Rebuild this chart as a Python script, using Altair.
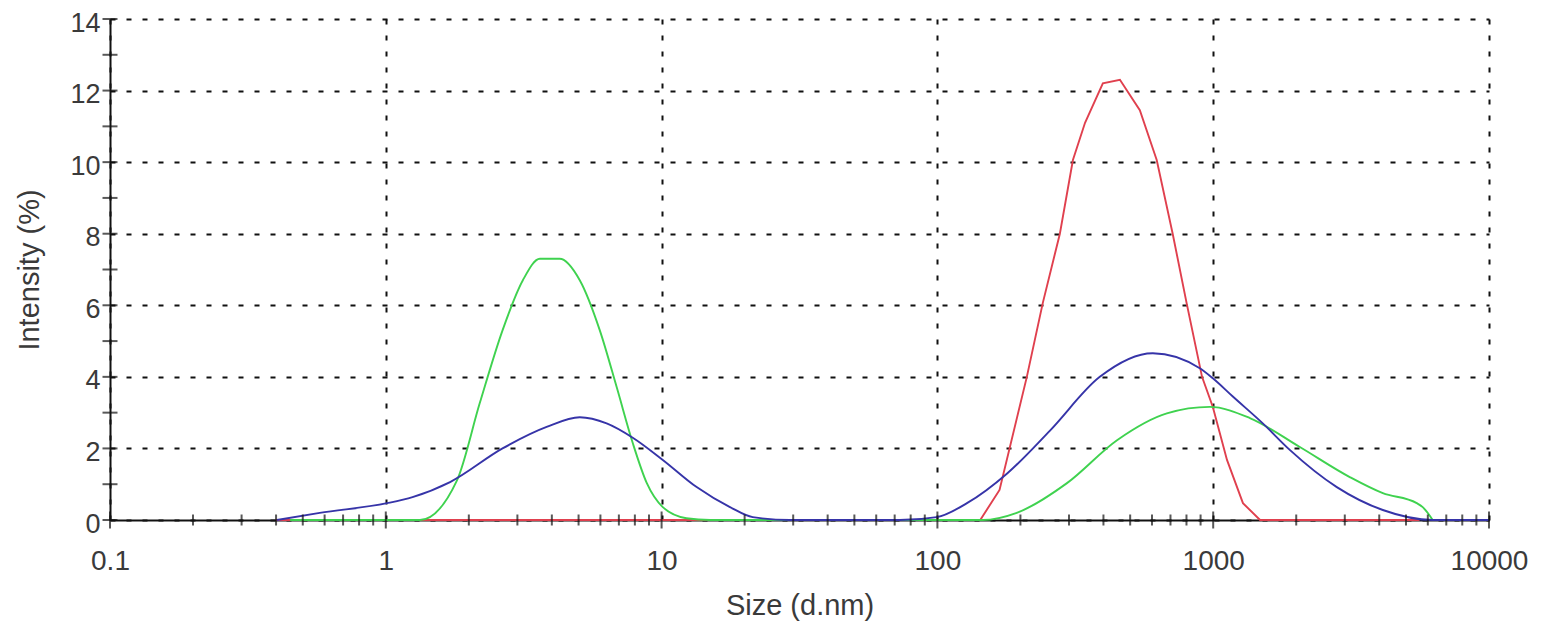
import altair as alt
import pandas as pd

# ---- data (size in d.nm, intensity in %) ----
red_size = [0.4, 143, 168, 211, 241, 278, 310, 343, 398, 459, 542, 624, 713, 801, 911, 997, 1122, 1282, 1479, 5600]
red_int  = [0.0, 0.0, 0.84, 4.0, 6.06, 8.0, 10.06, 11.1, 12.2, 12.3, 11.45, 10.06, 8.0, 6.06, 4.0, 3.16, 1.68, 0.47, 0.0, 0.0]

green_size = [0.45, 1.33, 1.81, 2.19, 2.65, 3.14, 3.62, 4.27, 5.05, 5.97, 6.88, 7.86, 8.84, 10.1, 12.3, 15.0,
              146, 194, 295, 448, 679, 972, 1358, 2061, 3127, 4121, 5470, 5750, 6250]
green_int  = [0.0, 0.0, 1.1, 3.26, 5.3, 6.7, 7.3, 7.3, 6.7, 5.3, 3.7, 2.15, 1.03, 0.36, 0.05, 0.0,
              0.0, 0.2, 1.03, 2.23, 2.98, 3.16, 2.85, 2.04, 1.2, 0.75, 0.47, 0.36, 0.0]

blue_size = [0.403, 0.576, 1.01, 1.25, 1.71, 2.65, 3.83, 5.05, 6.32, 7.86, 10.1, 13.4, 17.7, 21.4, 29.2, 73.1,
             99.5, 128, 179, 256, 388, 604, 894, 997, 1178, 1513, 1895, 2807, 4121, 6250, 10000]
blue_int  = [0.0, 0.2, 0.47, 0.64, 1.06, 2.0, 2.6, 2.87, 2.7, 2.3, 1.68, 0.92, 0.36, 0.08, 0.0, 0.0,
             0.08, 0.47, 1.3, 2.5, 4.0, 4.66, 4.24, 3.96, 3.45, 2.7, 1.96, 0.92, 0.28, 0.0, 0.0]

series_names = ["Red", "Green", "Blue"]
series_colors = ["#e0404e", "#3fd24f", "#3634a8"]
series_interp = ["linear", "monotone", "monotone"]

x_major = [0.1, 1, 10, 100, 1000, 10000]
x_minor = [m * d for d in [0.1, 1, 10, 100, 1000] for m in range(2, 10)]
y_major = [0, 2, 4, 6, 8, 10, 12, 14]
y_minor = [1, 3, 5, 7, 9, 11, 13]

frames = []
for name, xs, ys in [("Red", red_size, red_int), ("Green", green_size, green_int), ("Blue", blue_size, blue_int)]:
    frames.append(pd.DataFrame({"size": xs, "intensity": ys, "series": name}))
df = pd.concat(frames, ignore_index=True)

FONT = "Liberation Sans"
TXT = "#3a3a3a"

xscale = alt.Scale(type="log", domain=[0.1, 10000], nice=False)
yscale = alt.Scale(domain=[0, 14], nice=False)

xaxis = alt.Axis(values=x_major, labelExpr="toString(datum.value)", grid=True,
                 gridColor="#111", gridDash=[5, 11], gridWidth=2, ticks=False, tickSize=0,
                 domainColor="#111", domainWidth=2, labelFontSize=28, labelColor=TXT,
                 labelFont=FONT, labelPadding=27, labelFlush=False, labelOverlap=False,
                 title="Size (d.nm)", titleFontSize=29, titleFont=FONT, titleColor=TXT,
                 titleFontWeight="normal", titlePadding=16)
yaxis = alt.Axis(values=y_major, grid=True, gridColor="#111", gridDash=[5, 11], gridWidth=2,
                 ticks=False, tickSize=0, domainColor="#111", domainWidth=2,
                 labelFontSize=27, labelColor=TXT, labelFont=FONT, labelPadding=10,
                 labelOffset=4, labelFlush=False, labelOverlap=False,
                 title="Intensity (%)", titleFontSize=29, titleFont=FONT, titleColor=TXT,
                 titleFontWeight="normal", titlePadding=25)

base = alt.Chart(df)
layers = []
# axis/grid carrier (invisible points)
layers.append(
    base.mark_point(opacity=0).encode(
        x=alt.X("size:Q", scale=xscale, axis=xaxis),
        y=alt.Y("intensity:Q", scale=yscale, axis=yaxis),
    )
)
for name, col, interp in zip(series_names, series_colors, series_interp):
    layers.append(
        base.transform_filter(alt.datum.series == name)
        .mark_line(color=col, strokeWidth=1.9, interpolate=interp)
        .encode(x=alt.X("size:Q", scale=xscale), y=alt.Y("intensity:Q", scale=yscale),
                order="size:Q")
    )

xt_major = pd.DataFrame({"x": x_major, "y": 0})
xt_minor = pd.DataFrame({"x": x_minor, "y": 0})
yt_all = pd.DataFrame({"x": 0.1, "y": y_major + y_minor})

layers.append(alt.Chart(xt_major).mark_tick(orient="vertical", size=17, thickness=2, color="#111")
              .encode(x=alt.X("x:Q", scale=xscale), y=alt.Y("y:Q", scale=yscale)))
layers.append(alt.Chart(xt_minor).mark_tick(orient="vertical", size=11, thickness=2, color="#111")
              .encode(x=alt.X("x:Q", scale=xscale), y=alt.Y("y:Q", scale=yscale)))
layers.append(alt.Chart(yt_all).mark_tick(orient="horizontal", size=15, thickness=2, color="#111")
              .encode(x=alt.X("x:Q", scale=xscale), y=alt.Y("y:Q", scale=yscale)))

chart = alt.layer(*layers).properties(
    width=1379, height=501,
    autosize=alt.AutoSizeParams(type="none"),
    padding={"left": 102, "top": 11, "right": 40, "bottom": 104},
    background="white",
).configure_view(stroke=None)

chart.save("out.html", embed_options={"renderer": "svg", "actions": False})
